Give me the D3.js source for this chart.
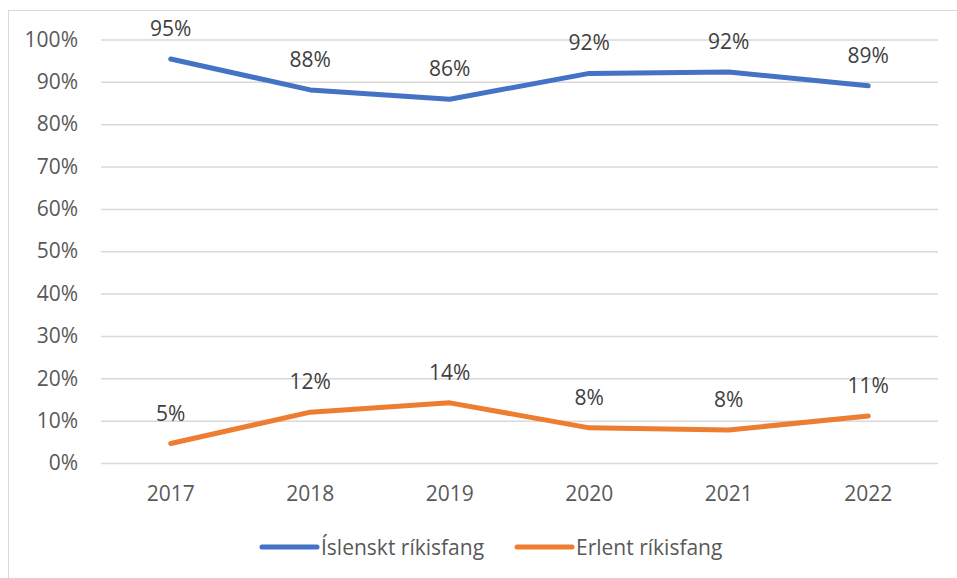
<!DOCTYPE html>
<html>
<head>
<meta charset="utf-8">
<script src="https://cdn.jsdelivr.net/npm/d3@7"></script>
<style>
  body { margin: 0; background: #fff; }
  text { font-family: "Open Sans", "Noto Sans", sans-serif; }
</style>
</head>
<body>
<div id="wrapper"></div>
<script>
const years = ["2017", "2018", "2019", "2020", "2021", "2022"];
const islenskt = [0.954, 0.881, 0.859, 0.920, 0.923, 0.891];
const erlent = [0.046, 0.120, 0.142, 0.083, 0.078, 0.111];
const seriesNames = ["Íslenskt ríkisfang", "Erlent ríkisfang"];
const yTicks = [0, 0.1, 0.2, 0.3, 0.4, 0.5, 0.6, 0.7, 0.8, 0.9, 1.0];

const series = [
  { name: seriesNames[0], values: islenskt, color: "#4472C4" },
  { name: seriesNames[1], values: erlent, color: "#ED7D31" }
];

const fontSize = "21px";

const dms = {
  width: 957,
  height: 578,
  margins: { top: 39.5, right: 19, bottom: 115, left: 101 }
};
dms.innerWidth = dms.width - dms.margins.left - dms.margins.right;
dms.innerHeight = dms.height - dms.margins.top - dms.margins.bottom;

const svg = d3.select("#wrapper")
  .append("svg")
    .attr("width", dms.width)
    .attr("height", dms.height);

// chart border
svg.append("rect")
  .attr("x", 8.5)
  .attr("y", 10.5)
  .attr("width", 1000)
  .attr("height", 1000)
  .attr("fill", "none")
  .attr("stroke", "#d9d9d9")
  .attr("stroke-width", 1);

const inner = svg.append("g")
  .attr("transform", `translate(${dms.margins.left},${dms.margins.top})`);

// scales
const xScale = d3.scaleBand()
  .domain(years)
  .range([0, dms.innerWidth]);

const yScale = d3.scaleLinear()
  .domain([0, 1])
  .range([dms.innerHeight, 0]);

// gridlines + y labels
const yAxis = inner.append("g")
  .call(d3.axisLeft(yScale)
    .tickValues(yTicks)
    .tickFormat(d3.format(".0%"))
    .tickSize(-dms.innerWidth)
    .tickPadding(23));

yAxis.select(".domain").remove();
yAxis.selectAll(".tick line")
  .attr("stroke", "#d9d9d9")
  .attr("stroke-width", 1.5);
yAxis.selectAll(".tick text")
  .attr("fill", "#595959")
  .style("font-size", fontSize);

// x labels
const xAxis = inner.append("g")
  .attr("transform", `translate(0,${dms.innerHeight})`)
  .call(d3.axisBottom(xScale).tickSize(0).tickPadding(23));

xAxis.select(".domain").remove();
xAxis.selectAll(".tick text")
  .attr("fill", "#595959")
  .style("font-size", fontSize);

// lines
const lineGenerator = d3.line()
  .x((d, i) => xScale(years[i]) + xScale.bandwidth() / 2)
  .y(d => yScale(d));

inner.selectAll(".series")
  .data(series)
  .join("path")
    .attr("class", "series")
    .attr("d", d => lineGenerator(d.values))
    .attr("fill", "none")
    .attr("stroke", d => d.color)
    .attr("stroke-width", 5)
    .attr("stroke-linecap", "round")
    .attr("stroke-linejoin", "round");

// data labels
series.forEach(s => {
  inner.append("g")
    .selectAll("text")
    .data(s.values)
    .join("text")
      .attr("x", (d, i) => xScale(years[i]) + xScale.bandwidth() / 2)
      .attr("y", d => yScale(d) - 23)
      .attr("text-anchor", "middle")
      .attr("fill", "#404040")
      .style("font-size", fontSize)
      .text(d => d3.format(".0%")(d));
});

// legend
const legendX = [262, 517];
const legend = svg.append("g")
  .selectAll("g")
  .data(series)
  .join("g")
    .attr("transform", (d, i) => `translate(${legendX[i]},547)`);

legend.append("line")
  .attr("x1", 0)
  .attr("x2", 55)
  .attr("stroke", d => d.color)
  .attr("stroke-width", 5)
  .attr("stroke-linecap", "round");

legend.append("text")
  .attr("x", 59)
  .attr("y", 7.5)
  .attr("fill", "#595959")
  .style("font-size", fontSize)
  .text(d => d.name);
</script>
</body>
</html>
